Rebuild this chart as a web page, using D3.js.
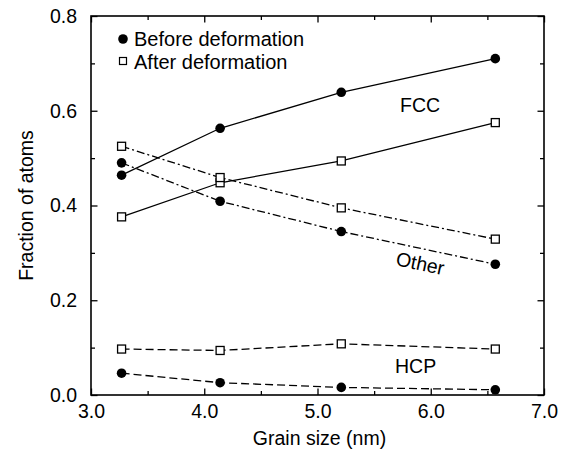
<!DOCTYPE html>
<html>
<head>
<meta charset="utf-8">
<script src="https://cdn.jsdelivr.net/npm/d3@7"></script>
<style>
  html, body { margin: 0; padding: 0; background: #fff; }
  svg { display: block; }
  text { font-family: "Liberation Sans", Arial, Helvetica, sans-serif; fill: #000; }
</style>
</head>
<body>
<svg id="chart" width="566" height="454"></svg>
<script>
// ---- data ----
const grainSize   = [3.27, 4.14, 5.21, 6.57];
const fccBefore   = [0.464, 0.563, 0.639, 0.710];
const fccAfter    = [0.376, 0.448, 0.494, 0.575];
const otherBefore = [0.490, 0.409, 0.345, 0.276];
const otherAfter  = [0.525, 0.459, 0.395, 0.329];
const hcpBefore   = [0.046, 0.026, 0.016, 0.011];
const hcpAfter    = [0.097, 0.094, 0.108, 0.097];
const xTicks      = [3.0, 4.0, 5.0, 6.0, 7.0];
const xMinorTicks = [3.5, 4.5, 5.5, 6.5];
const yTicks      = [0.0, 0.2, 0.4, 0.6, 0.8];
const yMinorTicks = [0.1, 0.3, 0.5, 0.7];
const legendLabels = ["Before deformation", "After deformation"];

// ---- layout ----
const svg = d3.select("#chart");
const L = 91, R = 544, T = 16, B = 395;
const x = d3.scaleLinear().domain([3, 7]).range([L, R]);
const y = d3.scaleLinear().domain([0, 0.8]).range([B, T]);
const FONT = 19.5;

// axes (inward ticks on all sides)
const fmt = d3.format(".1f");
svg.append("g").attr("transform", `translate(0,${B})`)
  .call(d3.axisBottom(x).tickValues(xTicks).tickFormat(fmt).tickSizeInner(-6.5).tickSizeOuter(0).tickPadding(9))
  .call(g => g.select(".domain").remove())
  .call(g => g.selectAll("text").style("font-size", FONT + "px").attr("font-family", null));
svg.append("g").attr("transform", `translate(0,${B})`)
  .call(d3.axisBottom(x).tickValues(xMinorTicks).tickFormat("").tickSizeInner(-4).tickSizeOuter(0))
  .call(g => g.select(".domain").remove());
svg.append("g").attr("transform", `translate(0,${T})`)
  .call(d3.axisTop(x).tickValues(xTicks).tickFormat("").tickSizeInner(-6.5).tickSizeOuter(0))
  .call(g => g.select(".domain").remove());
svg.append("g").attr("transform", `translate(0,${T})`)
  .call(d3.axisTop(x).tickValues(xMinorTicks).tickFormat("").tickSizeInner(-4).tickSizeOuter(0))
  .call(g => g.select(".domain").remove());

svg.append("g").attr("transform", `translate(${L},0)`)
  .call(d3.axisLeft(y).tickValues(yTicks).tickFormat(fmt).tickSizeInner(-6.5).tickSizeOuter(0).tickPadding(14))
  .call(g => g.select(".domain").remove())
  .call(g => g.selectAll("text").style("font-size", FONT + "px").attr("font-family", null));
svg.append("g").attr("transform", `translate(${L},0)`)
  .call(d3.axisLeft(y).tickValues(yMinorTicks).tickFormat("").tickSizeInner(-4).tickSizeOuter(0))
  .call(g => g.select(".domain").remove());
svg.append("g").attr("transform", `translate(${R},0)`)
  .call(d3.axisRight(y).tickValues(yTicks).tickFormat("").tickSizeInner(-6.5).tickSizeOuter(0))
  .call(g => g.select(".domain").remove());
svg.append("g").attr("transform", `translate(${R},0)`)
  .call(d3.axisRight(y).tickValues(yMinorTicks).tickFormat("").tickSizeInner(-4).tickSizeOuter(0))
  .call(g => g.select(".domain").remove());
svg.selectAll(".tick line").attr("stroke", "#000").attr("stroke-width", 1.3);

// frame
svg.append("rect").attr("x", L).attr("y", T).attr("width", R - L).attr("height", B - T)
  .attr("fill", "none").attr("stroke", "#000").attr("stroke-width", 1.6);

// axis titles
svg.append("text").attr("x", (L + R) / 2 + 2).attr("y", 445).attr("text-anchor", "middle")
  .style("font-size", FONT + "px").text("Grain size (nm)");
svg.append("text").attr("transform", `translate(33,${(T + B) / 2}) rotate(-90)`).attr("text-anchor", "middle")
  .style("font-size", FONT + "px").text("Fraction of atoms");

// series
const series = [
  { vals: fccBefore,   filled: true,  dash: null },
  { vals: fccAfter,    filled: false, dash: null },
  { vals: otherBefore, filled: true,  dash: "8,3,2,3" },
  { vals: otherAfter,  filled: false, dash: "8,3,2,3" },
  { vals: hcpBefore,   filled: true,  dash: "8,4" },
  { vals: hcpAfter,    filled: false, dash: "8,4" }
];
const line = d3.line().x((d, i) => x(grainSize[i])).y(d => y(d));
series.forEach(s => {
  svg.append("path").attr("d", line(s.vals)).attr("fill", "none")
    .attr("stroke", "#000").attr("stroke-width", 1.3)
    .attr("stroke-dasharray", s.dash);
});
series.forEach(s => {
  const g = svg.append("g");
  if (s.filled) {
    g.selectAll("circle").data(s.vals).join("circle")
      .attr("cx", (d, i) => x(grainSize[i])).attr("cy", d => y(d)).attr("r", 4.8).attr("fill", "#000");
  } else {
    g.selectAll("rect").data(s.vals).join("rect")
      .attr("x", (d, i) => x(grainSize[i]) - 4).attr("y", d => y(d) - 4)
      .attr("width", 8).attr("height", 8)
      .attr("fill", "#fff").attr("stroke", "#000").attr("stroke-width", 1.3);
  }
});

// labels
svg.append("text").attr("x", 400).attr("y", 112).style("font-size", FONT + "px").text("FCC");
svg.append("text").attr("x", 395).attr("y", 373).style("font-size", FONT + "px").text("HCP");
svg.append("text").attr("transform", "translate(395,265) rotate(12)").style("font-size", FONT + "px").text("Other");

// legend
const lg = svg.append("g");
lg.append("circle").attr("cx", 123).attr("cy", 39).attr("r", 4.8).attr("fill", "#000");
lg.append("rect").attr("x", 119.5).attr("y", 57.5).attr("width", 7).attr("height", 7)
  .attr("fill", "#fff").attr("stroke", "#000").attr("stroke-width", 1.2);
lg.append("text").attr("x", 134).attr("y", 46).style("font-size", "20px").text(legendLabels[0]);
lg.append("text").attr("x", 134).attr("y", 68.5).style("font-size", "20px").text(legendLabels[1]);
</script>
</body>
</html>
